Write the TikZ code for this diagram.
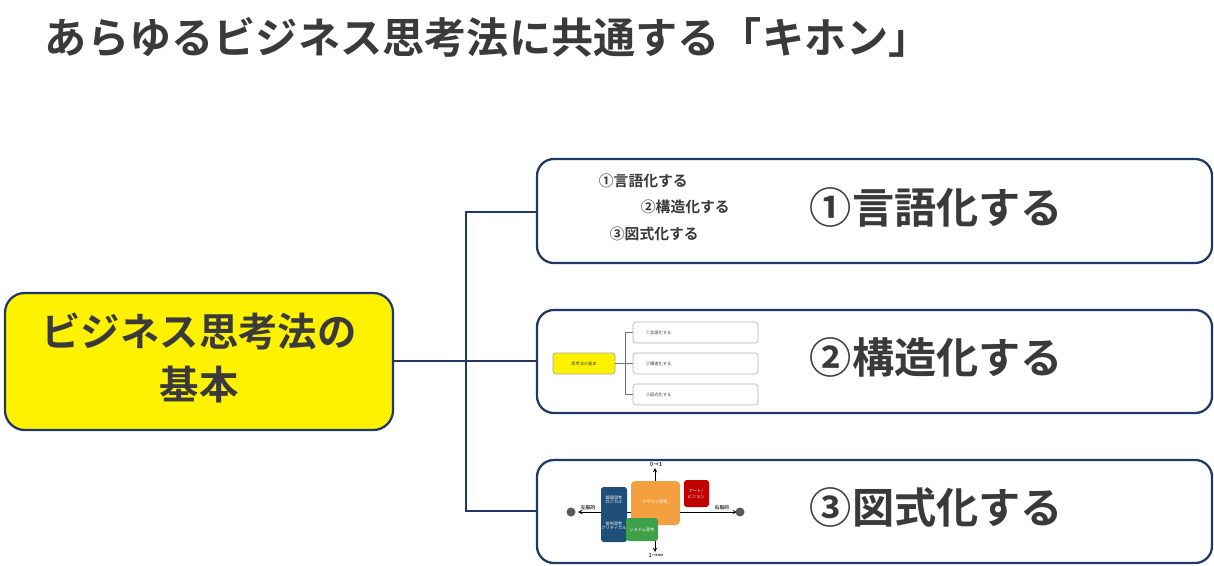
\documentclass[tikz,border=0pt]{standalone}
\usepackage{fontspec}
\setmainfont{Noto Sans CJK JP}[BoldFont={Noto Sans CJK JP Bold}]
\begin{document}
\begin{tikzpicture}[x=0.025cm,y=-0.025cm,
  txt/.style={text=tx,font=\bfseries},
  rbox/.style={draw=navy,line width=1.6pt,rounded corners=12pt,fill=white},
  conn/.style={draw=navy,line width=1.4pt},
  tb/.style={draw=gray!60,line width=0.4pt,rounded corners=2pt,fill=white},
  tiny/.style={font=\fontsize{3}{3}\selectfont,text=tx}]
\definecolor{navy}{HTML}{1F3864}
\definecolor{tx}{HTML}{3A3A3A}
\definecolor{tblue}{HTML}{1F4E79}
\definecolor{torange}{HTML}{F4A040}
\definecolor{tred}{HTML}{C00000}
\definecolor{tgreen}{HTML}{3FA04A}
\useasboundingbox (0,0) rectangle (1214,565);
\node[txt,anchor=west,font=\fontsize{30}{32}\selectfont\bfseries] (title) at (40,37) {あらゆるビジネス思考法に共通する「キホン」};
% main box
\draw[draw=navy,line width=1.6pt,rounded corners=14pt,fill=yellow] (5,293) rectangle (393,430);
\node[txt,align=center,font=\fontsize{28}{38}\selectfont\bfseries] (rt) at (199,358) {ビジネス思考法の\\基本};
\coordinate (rr) at (393,361);
% boxes
\draw[rbox] (537,159) rectangle (1212,263); \coordinate (b1) at (537,212);
\draw[rbox] (537,310) rectangle (1212,413); \coordinate (b2) at (537,361);
\draw[rbox] (537,460) rectangle (1212,563); \coordinate (b3) at (537,511);
\coordinate (j) at (466,361);
\draw[conn] (rr) -- (j);
\draw[conn] (b1) -| (j) |- (b3);
\draw[conn] (j) -- (b2);
\node[txt,anchor=west,font=\fontsize{30}{32}\selectfont\bfseries] (l1) at (805,207) {①言語化する};
\node[txt,anchor=west,font=\fontsize{30}{32}\selectfont\bfseries] (l2) at (805,357) {②構造化する};
\node[txt,anchor=west,font=\fontsize{30}{32}\selectfont\bfseries] (l3) at (805,507) {③図式化する};
% thumb 1
\node[txt,anchor=west,font=\fontsize{10.5}{11}\selectfont\bfseries] (s1) at (594,181) {①言語化する};
\node[txt,anchor=west,font=\fontsize{10.5}{11}\selectfont\bfseries] (s2) at (636,207) {②構造化する};
\node[txt,anchor=west,font=\fontsize{10.5}{11}\selectfont\bfseries] (s3) at (605,234) {③図式化する};
% thumb 2
\draw[draw=gray!70,line width=0.5pt,rounded corners=2pt,fill=yellow] (553,353) rectangle (615,374);
\node[tiny] (t0) at (584,363.5) {思考法の基本};
\draw[navy!70,line width=0.6pt] (615,363.5) -- (625,363.5) (625,332.5) -- (625,394.5)
  (625,332.5) -- (633,332.5) (625,363.5) -- (633,363.5) (625,394.5) -- (633,394.5);
\draw[tb] (633,322) rectangle (758,343); \node[tiny,anchor=west] (t1) at (641,332.5) {①言語化する};
\draw[tb] (633,353) rectangle (758,374); \node[tiny,anchor=west] (t2) at (641,363.5) {②構造化する};
\draw[tb] (633,384) rectangle (758,405); \node[tiny,anchor=west] (t3) at (641,394.5) {③図式化する};
% thumb 3
\draw[line width=0.4pt,->,>=stealth] (655,512) -- (578,512);
\draw[line width=0.4pt,->,>=stealth] (655,512) -- (737,512);
\draw[line width=0.4pt,->,>=stealth] (655,512) -- (655,468);
\draw[line width=0.4pt,->,>=stealth] (655,512) -- (655,552);
\fill[tblue,rounded corners=2pt] (601,487) rectangle (627,542);
\fill[torange,rounded corners=3pt] (631,481) rectangle (680,525);
\fill[tred,rounded corners=2pt] (684,480) rectangle (709,507);
\fill[tgreen,rounded corners=2pt] (626,518) rectangle (658,541);
\node[tiny,text=white,align=center] at (614,500) {論理思考\\ロジカル};
\node[tiny,text=white,align=center] at (614,526) {批判思考\\クリティカル};
\node[tiny,text=white] at (655,502) {デザイン思考};
\node[tiny,text=white,align=center] at (696,494) {アート/\\ビジョン};
\node[tiny,text=white] at (642,530) {システム思考};
\node[tiny,font=\fontsize{4}{4}\selectfont\bfseries] at (656,464) {0→1};
\node[tiny,font=\fontsize{4}{4}\selectfont\bfseries] at (656,555) {1→∞};
\node[tiny,font=\fontsize{3.5}{4}\selectfont\bfseries] at (588,508) {左脳的};
\node[tiny,font=\fontsize{3.5}{4}\selectfont\bfseries] at (722,508) {右脳的};
\fill[gray!70!black] (571,512) circle (4.5); \fill[gray!70!black] (740,512) circle (4.5);
\end{tikzpicture}
\end{document}
